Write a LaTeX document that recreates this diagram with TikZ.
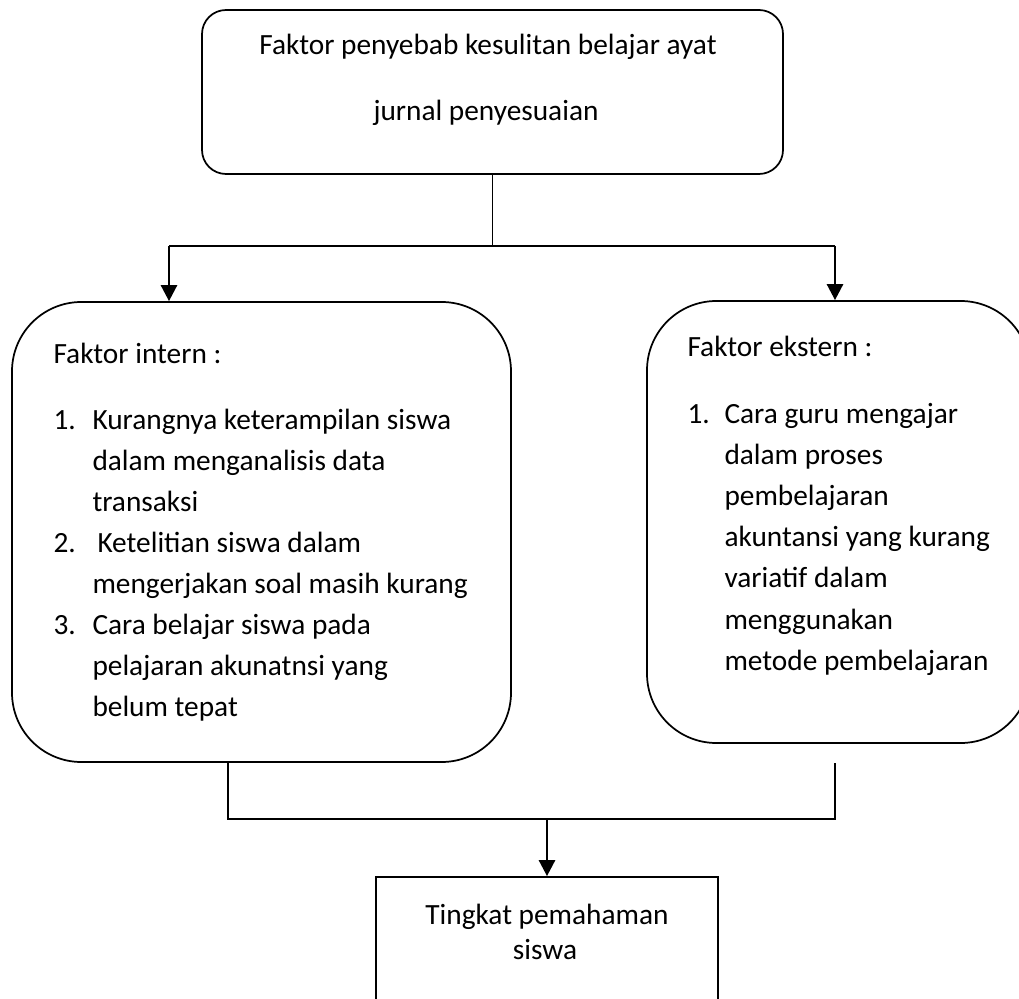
\documentclass[tikz,border=0pt]{standalone}
\usepackage{fontspec}
\setmainfont{Carlito}
\usetikzlibrary{arrows.meta}

\tikzset{every picture/.style={line width=0.75pt}}
\tikzset{
  box/.style={draw, line width=1.3pt, rounded corners=#1, inner sep=0pt},
  box/.default=18pt,
  sqbox/.style={draw, line width=1.3pt, inner sep=0pt},
  conn/.style={line width=1.3pt},
  bar/.style={line width=1.7pt},
  arrow/.style={line width=2pt, -{Triangle[length=12pt,width=12pt]}},
  txt/.style={inner sep=0pt, font=\fontsize{22}{30}\selectfont}
}

\begin{document}
\begin{tikzpicture}[x=0.75pt,y=0.75pt,yscale=-1,xscale=1]
	\useasboundingbox (0,0) rectangle (1019,998);
	
	%Shape: Rounded Rect [cause]
	\node [box=18pt, minimum width=435.75pt, minimum height=123pt] (cause) at (492.5,92) {};
	%Shape: Rounded Rect [intern]
	\node [box=52pt, minimum width=374.25pt, minimum height=345pt] (intern) at (261.5,532) {};
	%Shape: Rounded Rect [ekstern]
	\node [box=52pt, minimum width=287.25pt, minimum height=331.5pt] (ekstern) at (838.5,522) {};
	%Shape: Rectangle [hasil]
	\node [sqbox, minimum width=256.5pt, minimum height=101.25pt] (hasil) at (547,944.5) {};
	
	\coordinate (jL) at (169,246);
	\coordinate (jR) at (835,246);
	\coordinate (bL) at (228,819);
	\coordinate (bR) at (835,819);
	
	%Straight Lines
	\draw [conn] (cause.south) -- (cause.south |- jL);
	\draw [bar] (jL) -- (jR);
	\draw [arrow] (jL) -- (jL |- intern.north);
	\draw [arrow] (jR) -- (jR |- ekstern.north);
	%Straight Lines
	\draw [conn] (bL |- intern.south) -- (bL) -- (bR) -- (bR |- intern.south);
	\draw [arrow] (hasil.north |- bL) -- (hasil.north);
	
	% Text Node
	\node [txt, anchor=base] (c1) at (488,55) {Faktor penyebab kesulitan belajar ayat};
	% Text Node
	\node [txt, anchor=base] (c2) at (486,121) {jurnal penyesuaian};
	
	% Text Node
	\node [txt, anchor=base west] (in0) at (53,363) {Faktor intern :};
	\node [txt, anchor=base west] (inA) at (53,429) {1.};
	\node [txt, anchor=base west] (in1) at (92,429) {Kurangnya keterampilan siswa};
	\node [txt, anchor=base west] (in2) at (92,470.1) {dalam menganalisis data};
	\node [txt, anchor=base west] (in3) at (92,511.2) {transaksi};
	\node [txt, anchor=base west] (inB) at (53,552.3) {2.};
	\node [txt, anchor=base west] (in4) at (97,552.3) {Ketelitian siswa dalam};
	\node [txt, anchor=base west] (in5) at (92,593.4) {mengerjakan soal masih kurang};
	\node [txt, anchor=base west] (inC) at (53,634.5) {3.};
	\node [txt, anchor=base west] (in6) at (92,634.5) {Cara belajar siswa pada};
	\node [txt, anchor=base west] (in7) at (92,675.6) {pelajaran akunatnsi yang};
	\node [txt, anchor=base west] (in8) at (92,716.7) {belum tepat};
	
	% Text Node
	\node [txt, anchor=base west] (ek0) at (687,356) {Faktor ekstern :};
	\node [txt, anchor=base west] (ekA) at (687,423) {1.};
	\node [txt, anchor=base west] (ek1) at (724,423) {Cara guru mengajar};
	\node [txt, anchor=base west] (ek2) at (724,464.2) {dalam proses};
	\node [txt, anchor=base west] (ek3) at (724,505.4) {pembelajaran};
	\node [txt, anchor=base west] (ek4) at (724,546.6) {akuntansi yang kurang};
	\node [txt, anchor=base west] (ek5) at (724,587.8) {variatif dalam};
	\node [txt, anchor=base west] (ek6) at (724,629) {menggunakan};
	\node [txt, anchor=base west] (ek7) at (724,670.2) {metode pembelajaran};
	
	% Text Node
	\node [txt, anchor=base] (h1) at (547,924) {Tingkat pemahaman};
	\node [txt, anchor=base] (h2) at (545,959) {siswa};
	
\end{tikzpicture}
\end{document}
